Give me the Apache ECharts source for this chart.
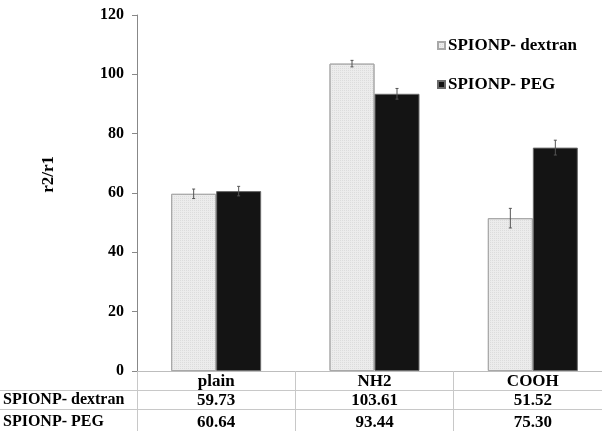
<!DOCTYPE html>
<html>
<head>
<meta charset="utf-8">
<script src="https://cdn.jsdelivr.net/npm/echarts@6/dist/echarts.min.js"></script>
<style>
  html, body { margin: 0; padding: 0; background: #fff; }
  #chart { width: 602px; height: 431px; }
</style>
</head>
<body>
<div id="chart"></div>
<script>
// Relaxivity ratio r2/r1 per surface coating
const categories = ['plain', 'NH2', 'COOH'];
const seriesNames = ['SPIONP- dextran', 'SPIONP- PEG'];
const dextranValues = [59.73, 103.61, 51.52];
const pegValues = [60.64, 93.44, 75.30];
const dextranErrors = [1.6, 1.1, 3.3];
const pegErrors = [1.6, 1.8, 2.5];
const yTicks = { min: 0, max: 120, interval: 20 };

const FONT = '"Liberation Serif", "Times New Roman", serif';
const BAR_W = 45;

const chart = echarts.init(document.getElementById('chart'), null, { renderer: 'canvas' });

// error bar drawn at the centre of a bar, shifted by half a bar width
function errorBars(values, errors, shift) {
  return {
    type: 'custom',
    z: 5,
    silent: true,
    data: values.map((v, i) => [i, v, errors[i]]),
    renderItem: function (params, api) {
      const i = api.value(0), v = api.value(1), e = api.value(2);
      const top = api.coord([i, v + e]);
      const bot = api.coord([i, v - e]);
      const x = top[0] + shift;
      const cap = 1.5;
      const style = { stroke: '#555', lineWidth: 1 };
      return {
        type: 'group',
        children: [
          { type: 'line', shape: { x1: x, y1: top[1], x2: x, y2: bot[1] }, style },
          { type: 'line', shape: { x1: x - cap, y1: top[1], x2: x + cap, y2: top[1] }, style },
          { type: 'line', shape: { x1: x - cap, y1: bot[1], x2: x + cap, y2: bot[1] }, style }
        ]
      };
    }
  };
}

const option = {
  animation: false,
  backgroundColor: '#fff',
  textStyle: { fontFamily: FONT },
  grid: { left: 137, width: 475, top: 15, bottom: 60, containLabel: false, outerBoundsMode: 'none' },
  legend: {
    data: seriesNames,
    orient: 'vertical',
    left: 432,
    top: 32,
    itemGap: 22,
    itemWidth: 7,
    itemHeight: 7,
    icon: 'rect',
    textStyle: { fontFamily: FONT, fontWeight: 'bold', fontSize: 17, color: '#000', padding: [0, 0, 0, -2] }
  },
  xAxis: {
    type: 'category',
    data: categories,
    boundaryGap: true,
    axisLine: { show: true, lineStyle: { color: '#bdbdbd', width: 1 } },
    axisTick: { show: true, length: 62, alignWithLabel: false, interval: 0, lineStyle: { color: '#c8c8c8', width: 1 } },
    axisLabel: {
      margin: 1,
      interval: 0,
      formatter: function (val, idx) {
        return '{c|' + val + '}\n{a|' + dextranValues[idx].toFixed(2) + '}\n{b|' + pegValues[idx].toFixed(2) + '}';
      },
      rich: {
        c: { fontFamily: FONT, fontWeight: 'bold', fontSize: 17, color: '#000', lineHeight: 19 },
        a: { fontFamily: FONT, fontWeight: 'bold', fontSize: 17, color: '#000', lineHeight: 20 },
        b: { fontFamily: FONT, fontWeight: 'bold', fontSize: 17, color: '#000', lineHeight: 23 }
      }
    },
    splitLine: { show: false }
  },
  yAxis: {
    type: 'value',
    min: yTicks.min,
    max: yTicks.max,
    interval: yTicks.interval,
    axisLine: { show: true, lineStyle: { color: '#888', width: 1 } },
    axisTick: { show: true, length: 5, lineStyle: { color: '#888' } },
    axisLabel: { margin: 13, fontFamily: FONT, fontWeight: 'bold', fontSize: 16, color: '#000' },
    splitLine: { show: false }
  },
  graphic: [
    // y-axis title
    {
      type: 'text', left: 40, top: 156, rotation: Math.PI / 2,
      style: { text: 'r2/r1', font: 'bold 17px ' + FONT, fill: '#000' }
    },
    // data table row rules and row headers
    { type: 'line', shape: { x1: 0, y1: 390.5, x2: 602, y2: 390.5 }, style: { stroke: '#c8c8c8', lineWidth: 1 } },
    { type: 'line', shape: { x1: 0, y1: 409.5, x2: 602, y2: 409.5 }, style: { stroke: '#c8c8c8', lineWidth: 1 } },
    { type: 'line', shape: { x1: 137.5, y1: 371, x2: 137.5, y2: 431 }, style: { stroke: '#c8c8c8', lineWidth: 1 } },
    {
      type: 'text', left: 3, top: 392,
      style: { text: seriesNames[0], font: 'bold 16px ' + FONT, fill: '#000' }
    },
    {
      type: 'text', left: 3, top: 414,
      style: { text: seriesNames[1], font: 'bold 16px ' + FONT, fill: '#000' }
    }
  ],
  series: [
    {
      name: seriesNames[0],
      type: 'bar',
      data: dextranValues,
      barWidth: BAR_W,
      barGap: '0%',
      itemStyle: {
        color: '#ececec',
        borderColor: '#a8a8a8',
        borderWidth: 1,
        decal: {
          symbol: 'rect',
          symbolSize: 1,
          dashArrayX: [1, 1],
          dashArrayY: [1, 1],
          rotation: 0,
          color: 'rgba(210,210,210,0.6)'
        }
      }
    },
    {
      name: seriesNames[1],
      type: 'bar',
      data: pegValues,
      barWidth: BAR_W,
      barGap: '0%',
      itemStyle: { color: '#141414', borderColor: '#6a6a6a', borderWidth: 1 }
    },
    errorBars(dextranValues, dextranErrors, -BAR_W / 2),
    errorBars(pegValues, pegErrors, BAR_W / 2)
  ]
};

chart.setOption(option);
</script>
</body>
</html>
